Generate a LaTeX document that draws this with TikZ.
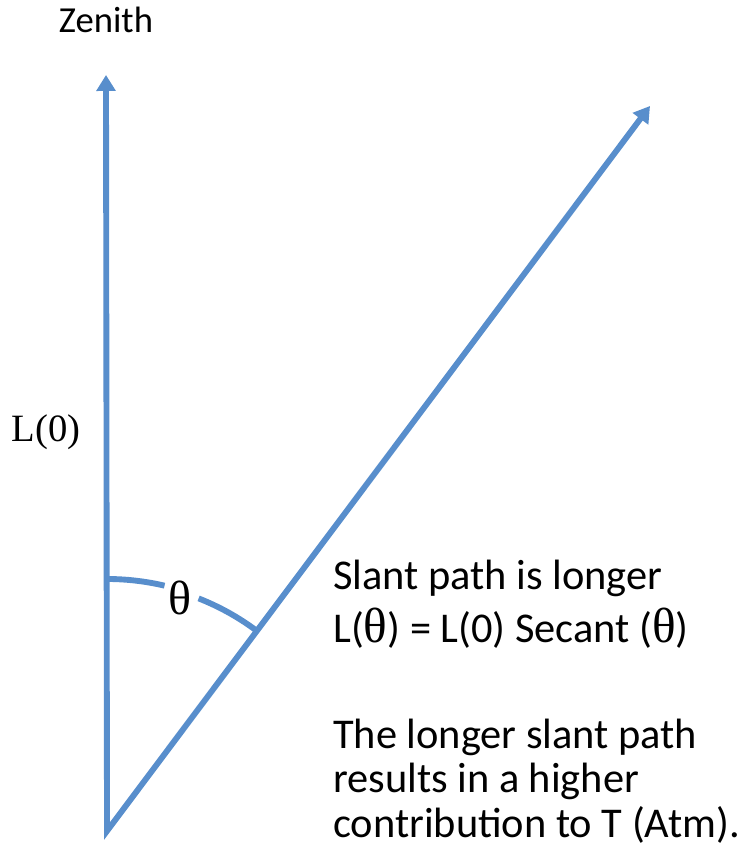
\documentclass[tikz,border=0pt]{standalone}
\usepackage{fontspec}
\setmainfont{Carlito}
\newfontfamily\serifface{Liberation Serif}
\usetikzlibrary{arrows.meta}
\definecolor{raycol}{RGB}{88,142,204}
\newcommand{\thsym}{{\serifface\fontsize{37}{37}\selectfont θ}}
\begin{document}
\begin{tikzpicture}[x=0.75pt,y=0.75pt,
  rays/.style={draw=raycol, line width=4.4pt, line join=miter,
    {Triangle[width=14pt,length=12pt]}-{Triangle[width=14pt,length=12pt]}},
  arcline/.style={draw=raycol, line width=4.4pt},
  zlabel/.style={inner sep=0pt, font=\fontsize{27.5}{31}\selectfont},
  serlabel/.style={inner sep=0pt, font=\serifface\fontsize{29}{33}\selectfont},
  thlabel/.style={inner sep=0pt, font=\serifface\fontsize{36}{40}\selectfont},
  textline/.style={inner sep=0pt, anchor=base west, font=\fontsize{31.8}{37}\selectfont}]
\useasboundingbox (0,0) rectangle (745,853);
\coordinate (O) at (107,22);
\coordinate (Z) at (106,778);
\coordinate (S) at (650,747);
\draw[rays] (Z) -- (O) -- (S);
\draw[arcline] (O) ++(90:252) arc[start angle=90, end angle=76.8, radius=252];
\draw[arcline] (O) ++(68.5:250) arc[start angle=68.5, end angle=53.1, radius=250];
\node[zlabel, anchor=base] (zen) at (106,820) {Zenith};
\node[serlabel, anchor=base] (l0) at (46,411) {L(0)};
\node[thlabel, anchor=base] (th) at (180,238) {θ};
\node[textline] (t1) at (333,263) {Slant path is longer};
\node[textline] (t2) at (333,210) {L(\thsym) = L(0) Secant (\thsym)};
\node[textline] (t3) at (333,104) {The longer slant path};
\node[textline] (t4) at (333,60) {results in a higher};
\node[textline] (t5) at (333,15) {contribution to T (Atm).};
\end{tikzpicture}
\end{document}
